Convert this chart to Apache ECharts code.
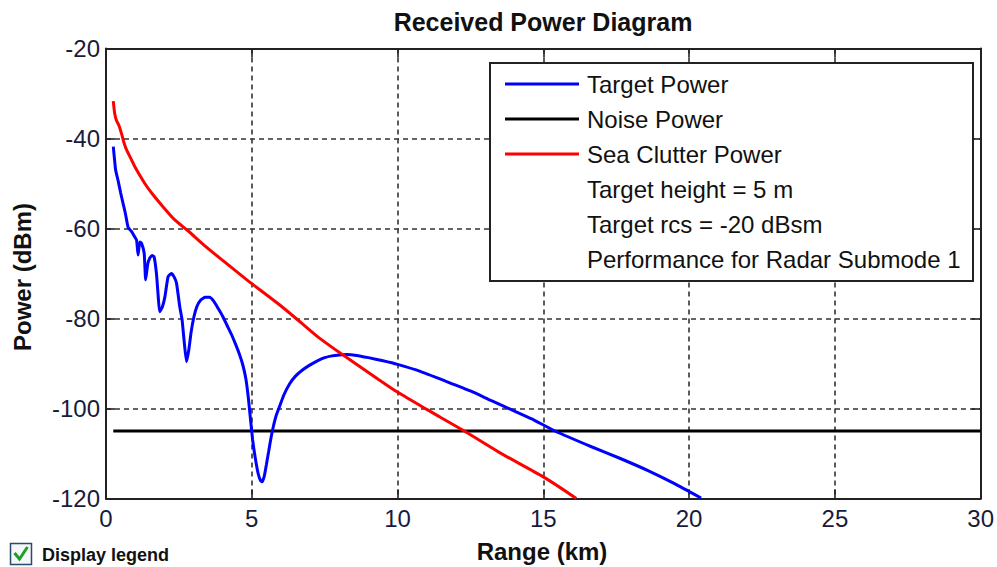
<!DOCTYPE html>
<html>
<head>
<meta charset="utf-8">
<title>Received Power Diagram</title>
<script src="https://cdn.jsdelivr.net/npm/echarts@6/dist/echarts.min.js"></script>
<style>
  html, body { margin: 0; padding: 0; background: #ffffff; }
  #chart { width: 997px; height: 567px; }
</style>
</head>
<body>
<div id="chart"></div>
<script>
// Received power versus range (km, dBm)
const rangeTicks = [0, 5, 10, 15, 20, 25, 30];
const powerTicks = [-120, -100, -80, -60, -40, -20];

const targetRange = [
  0.25, 0.29, 0.33, 0.42, 0.5, 0.57, 0.66, 0.76, 0.88, 0.98,
  1.05, 1.1, 1.16, 1.22, 1.31, 1.36, 1.43, 1.5, 1.58, 1.65,
  1.73, 1.79, 1.84, 1.93, 2.02, 2.13, 2.24, 2.34, 2.42, 2.53,
  2.61, 2.68, 2.76, 2.84, 2.92, 3.02, 3.12, 3.25, 3.4, 3.55,
  3.7, 3.85, 4.0, 4.15, 4.3, 4.45, 4.58, 4.7, 4.8, 4.88,
  4.95, 5.03, 5.12, 5.22, 5.3, 5.36, 5.43, 5.5, 5.58, 5.66,
  5.74, 5.84, 5.95, 6.1, 6.3, 6.5, 6.75, 7.0, 7.25, 7.5,
  7.75, 8.0, 8.25, 8.6, 9.0, 9.5, 10.0, 10.8, 11.64, 12.5,
  13.2, 13.92, 14.6, 15.4, 16.65, 17.6, 18.59, 19.5, 20.41
];
const targetPower = [
  -41.8, -44.5, -47, -49.5, -52, -54, -56.5, -59.8, -60.7, -61.8,
  -62.6, -65.9, -63, -63.3, -65.5, -71.4, -68, -66.6, -66, -66.3,
  -70, -75, -78.5, -77.5, -75.2, -70.7, -70, -70.8, -72.2, -77.4,
  -80.3, -85, -89.6, -87, -83, -79.5, -77.3, -75.9, -75.3, -75.3,
  -76.2, -77.8, -79.5, -81.5, -83.5, -85.8, -88, -90.5, -93.5, -97.5,
  -102, -107, -111, -114.5, -116, -116.3, -115, -112.5, -109.5, -106.5,
  -104, -101.5, -99.6, -97, -94.5, -92.8, -91.4, -90.3, -89.4, -88.7,
  -88.3, -88.1, -88, -88.2, -88.7, -89.4, -90.2, -91.8, -93.9, -96.1,
  -98.2, -100.3, -102.3, -105, -108.5, -111, -113.8, -116.7, -119.9
];

const noiseRange = [0.25, 30];
const noisePower = [-105, -105];

const clutterRange = [
  0.25, 0.3, 0.36, 0.45, 0.55, 0.62, 0.71, 0.88, 0.99, 1.33,
  1.6, 1.96, 2.36, 2.81, 3.38, 4.1, 4.81, 5.94, 6.74, 7.31,
  8.17, 9.36, 9.98, 11.0, 12.26, 13.5, 15.0, 16.13
];
const clutterPower = [
  -31.7, -34.5, -36.0, -37.2, -39.3, -41.0, -42.6, -44.8, -46.3, -50,
  -52.4, -55.2, -58.1, -60.5, -63.8, -67.6, -71.3, -76.9, -81.2, -84.3,
  -88.3, -93.6, -96.3, -100.2, -104.9, -109.8, -115.2, -120
];

const seriesNames = ['Target Power', 'Noise Power', 'Sea Clutter Power'];
const noteLines = ['Target height = 5 m', 'Target rcs = -20 dBsm', 'Performance for Radar Submode 1'];

const FONT = '"Liberation Sans", Arial, sans-serif';
const pairs = (xs, ys) => xs.map((x, i) => [x, ys[i]]);

const chart = echarts.init(document.getElementById('chart'), null, { renderer: 'svg' });

const gridLine = { show: true, lineStyle: { color: '#333', width: 1.6, type: [5, 4] } };
const frameLine = { show: true, onZero: false, lineStyle: { color: '#222', width: 2 } };
const innerTick = { show: true, inside: true, length: 9, lineStyle: { color: '#222', width: 1.6 } };

const LEG_X = 490, LEG_Y = 63, LEG_W = 483, LEG_H = 218;
const ROW0 = 84, ROW_STEP = 35;

chart.setOption({
  animation: false,
  backgroundColor: '#ffffff',
  textStyle: { fontFamily: FONT },
  title: {
    text: 'Received Power Diagram',
    left: 538, top: 4,
    textAlign: 'center',
    textStyle: { fontFamily: FONT, fontSize: 25, fontWeight: 'bold', color: '#111' }
  },
  grid: { left: 106, right: 13, top: 48.5, bottom: 68.5, containLabel: false },
  xAxis: [
    {
      type: 'value', min: rangeTicks[0], max: rangeTicks[rangeTicks.length - 1], interval: 5,
      axisLine: frameLine, axisTick: innerTick, splitLine: gridLine,
      axisLabel: { fontFamily: FONT, fontSize: 24, color: '#1a1a3a', margin: 8 }
    },
    {
      type: 'value', position: 'top', min: rangeTicks[0], max: rangeTicks[rangeTicks.length - 1], interval: 5,
      axisLine: frameLine, axisTick: innerTick, splitLine: { show: false }, axisLabel: { show: false }
    }
  ],
  yAxis: [
    {
      type: 'value', min: powerTicks[0], max: powerTicks[powerTicks.length - 1], interval: 20,
      axisLine: frameLine, axisTick: innerTick, splitLine: gridLine,
      axisLabel: { fontFamily: FONT, fontSize: 24, color: '#1a1a3a', margin: 6 }
    },
    {
      type: 'value', position: 'right', min: powerTicks[0], max: powerTicks[powerTicks.length - 1], interval: 20,
      axisLine: frameLine, axisTick: innerTick, splitLine: { show: false }, axisLabel: { show: false }
    }
  ],
  legend: {
    orient: 'vertical',
    left: 505, top: ROW0 - 12,
    padding: 0,
    itemWidth: 74, itemHeight: 3, itemGap: ROW_STEP - 24,
    icon: 'rect',
    z: 10,
    selectedMode: false,
    data: seriesNames,
    textStyle: { fontFamily: FONT, fontSize: 24, lineHeight: 24, color: '#111', padding: [0, 0, 0, 3] }
  },
  graphic: [
    {
      type: 'rect', z: 5,
      shape: { x: LEG_X, y: LEG_Y, width: LEG_W, height: LEG_H },
      style: { fill: '#ffffff', stroke: '#222', lineWidth: 2 }
    },
    ...noteLines.map((t, i) => ({
      type: 'text', z: 11,
      x: 587, y: ROW0 + ROW_STEP * (3 + i),
      style: { text: t, font: '24px ' + FONT, fill: '#111', textVerticalAlign: 'middle' }
    })),
    {
      type: 'text', z: 11,
      x: 542, y: 551,
      style: { text: 'Range (km)', font: 'bold 24px ' + FONT, fill: '#111', textAlign: 'center', textVerticalAlign: 'middle' }
    },
    {
      type: 'text', z: 11,
      x: 22, y: 277, rotation: Math.PI / 2,
      style: { text: 'Power (dBm)', font: 'bold 24px ' + FONT, fill: '#111', textAlign: 'center', textVerticalAlign: 'middle' }
    },
    {
      type: 'rect', z: 11,
      shape: { x: 10.5, y: 543.5, width: 21, height: 21 },
      style: { fill: '#f4f6f8', stroke: '#2a4a6a', lineWidth: 1.5 }
    },
    {
      type: 'polyline', z: 12,
      shape: { points: [[14.5, 553], [19.5, 559], [27.5, 547]] },
      style: { stroke: '#1f9e2a', lineWidth: 3, fill: null }
    },
    {
      type: 'text', z: 11,
      x: 42, y: 555,
      style: { text: 'Display legend', font: 'bold 18px ' + FONT, fill: '#111', textVerticalAlign: 'middle' }
    }
  ],
  series: [
    {
      name: seriesNames[0], type: 'line', showSymbol: false, symbol: 'none',
      smooth: 0.15,
      data: pairs(targetRange, targetPower),
      lineStyle: { color: '#0000ff', width: 3 }, itemStyle: { color: '#0000ff' }, z: 4
    },
    {
      name: seriesNames[1], type: 'line', showSymbol: false, symbol: 'none',
      data: pairs(noiseRange, noisePower),
      lineStyle: { color: '#000000', width: 3 }, itemStyle: { color: '#000000' }, z: 3
    },
    {
      name: seriesNames[2], type: 'line', showSymbol: false, symbol: 'none',
      smooth: 0.25,
      data: pairs(clutterRange, clutterPower),
      lineStyle: { color: '#ff0000', width: 3 }, itemStyle: { color: '#ff0000' }, z: 4
    }
  ]
});
</script>
</body>
</html>
